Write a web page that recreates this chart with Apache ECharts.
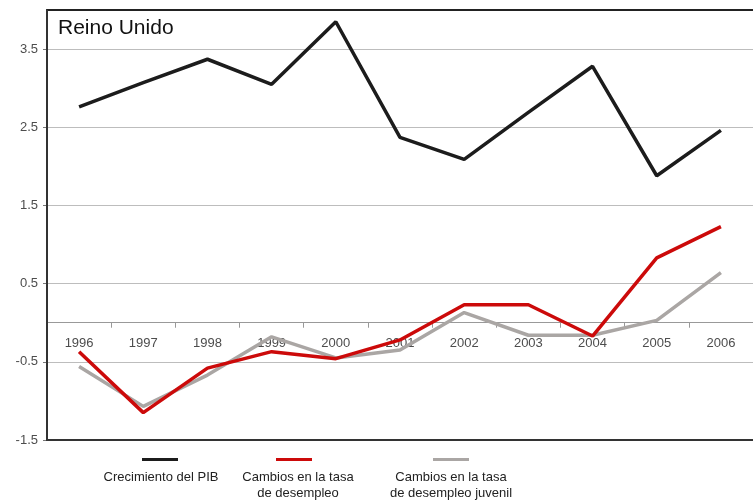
<!DOCTYPE html>
<html>
<head>
<meta charset="utf-8">
<script src="https://cdn.jsdelivr.net/npm/echarts@6/dist/echarts.min.js"></script>
<style>
  html, body { margin: 0; padding: 0; background: #fff; }
  #chart { width: 753px; height: 504px; }
</style>
</head>
<body>
<div id="chart"></div>
<script>
// Years on the category axis
const years = ['1996', '1997', '1998', '1999', '2000', '2001', '2002', '2003', '2004', '2005', '2006'];

// GDP growth (%)
const pibGrowth = [2.76, 3.07, 3.37, 3.05, 3.85, 2.37, 2.09, 2.69, 3.28, 1.88, 2.46];
// Change in the unemployment rate
const unemploymentChange = [-0.37, -1.15, -0.58, -0.37, -0.46, -0.22, 0.23, 0.23, -0.17, 0.83, 1.23];
// Change in the youth unemployment rate
const youthUnemploymentChange = [-0.56, -1.07, -0.67, -0.18, -0.45, -0.35, 0.13, -0.16, -0.16, 0.03, 0.64];

// Value-axis tick labels
const yTicks = [-1.5, -0.5, 0.5, 1.5, 2.5, 3.5];

const seriesNames = ['Crecimiento del PIB', 'Cambios en la tasa de desempleo', 'Cambios en la tasa de desempleo juvenil'];
const legendLabels = ['Crecimiento del PIB', 'Cambios en la tasa\nde desempleo', 'Cambios en la tasa\nde desempleo juvenil'];
const colors = ['#1c1c1c', '#cc0a0a', '#aaa6a4'];

const FONT = '"Liberation Sans", Arial, sans-serif';

// Plot box (px) and value range, used to sit the year axis on the zero line
const GRID = { left: 47, right: -11, top: 10, bottom: 64 };
const Y_MIN = -1.5, Y_MAX = 4;
const plotHeight = 504 - GRID.top - GRID.bottom;
const zeroOffset = -plotHeight * (0 - Y_MIN) / (Y_MAX - Y_MIN);

const chart = echarts.init(document.getElementById('chart'), null, { renderer: 'canvas' });

function legendFor(i, left) {
  return {
    show: true,
    data: [seriesNames[i]],
    left: left,
    top: 458,
    icon: 'rect',
    itemWidth: 36,
    itemHeight: 3,
    itemGap: 0,
    padding: 0,
    formatter: function () { return ''; },
    textStyle: { fontSize: 1 },
    selectedMode: false
  };
}

function legendText(i, x) {
  return {
    type: 'text',
    style: {
      text: legendLabels[i],
      x: x,
      y: 469,
      textAlign: 'center',
      textVerticalAlign: 'top',
      font: '13px ' + FONT,
      lineHeight: 16,
      fill: '#222'
    }
  };
}

// dark frame lines along the left and bottom edges of the plot
const frameBottom = 504 - GRID.bottom;
const frame = [
  { type: 'line', shape: { x1: GRID.left, y1: frameBottom, x2: 753, y2: frameBottom }, style: { stroke: '#333', lineWidth: 2 }, z: 10 },
  { type: 'line', shape: { x1: GRID.left, y1: GRID.top, x2: GRID.left, y2: frameBottom + 1 }, style: { stroke: '#333', lineWidth: 2 }, z: 10 }
];

const option = {
  animation: false,
  backgroundColor: '#ffffff',
  title: {
    text: 'Reino Unido',
    left: 58,
    top: 18,
    padding: 0,
    textStyle: { fontFamily: FONT, fontSize: 21, fontWeight: 'normal', color: '#111' }
  },
  grid: GRID,
  legend: [legendFor(0, 142), legendFor(1, 276), legendFor(2, 433)],
  graphic: [legendText(0, 161), legendText(1, 298), legendText(2, 451)].concat(frame),
  xAxis: [
    {
      // year axis drawn along the zero line
      type: 'category',
      data: years,
      position: 'bottom',
      offset: zeroOffset,
      boundaryGap: true,
      axisLine: { show: true, onZero: false, lineStyle: { color: '#999', width: 1 } },
      axisTick: { show: true, length: 5, lineStyle: { color: '#999' } },
      axisLabel: { color: '#4d4d4d', fontFamily: FONT, fontSize: 13, margin: 14 },
      splitLine: { show: false },
      z: 1
    },
    {
      type: 'category',
      data: years,
      position: 'top',
      axisLine: { show: true, onZero: false, lineStyle: { color: '#222', width: 2 } },
      axisTick: { show: false },
      axisLabel: { show: false },
      splitLine: { show: false }
    }
  ],
  yAxis: [
    {
      type: 'value',
      min: Y_MIN,
      max: Y_MAX,
      axisLine: { show: true, onZero: false, lineStyle: { color: '#333', width: 2 } },
      axisTick: { show: true, length: 4, customValues: yTicks, lineStyle: { color: '#777' } },
      axisLabel: {
        customValues: yTicks,
        color: '#4d4d4d',
        fontFamily: FONT,
        fontSize: 13,
        margin: 9,
        formatter: function (v) { return String(v); }
      },
      splitLine: { show: true, lineStyle: { color: '#bdbdbd', width: 1 } }
    }
  ],
  series: [
    {
      name: seriesNames[2],
      type: 'line',
      data: youthUnemploymentChange,
      symbol: 'none',
      color: colors[2],
      lineStyle: { color: colors[2], width: 3.5 },
      z: 3
    },
    {
      name: seriesNames[1],
      type: 'line',
      data: unemploymentChange,
      symbol: 'none',
      color: colors[1],
      lineStyle: { color: colors[1], width: 3.5 },
      z: 4
    },
    {
      name: seriesNames[0],
      type: 'line',
      data: pibGrowth,
      symbol: 'none',
      color: colors[0],
      lineStyle: { color: colors[0], width: 3.5 },
      z: 5
    }
  ]
};

chart.setOption(option);
</script>
</body>
</html>
